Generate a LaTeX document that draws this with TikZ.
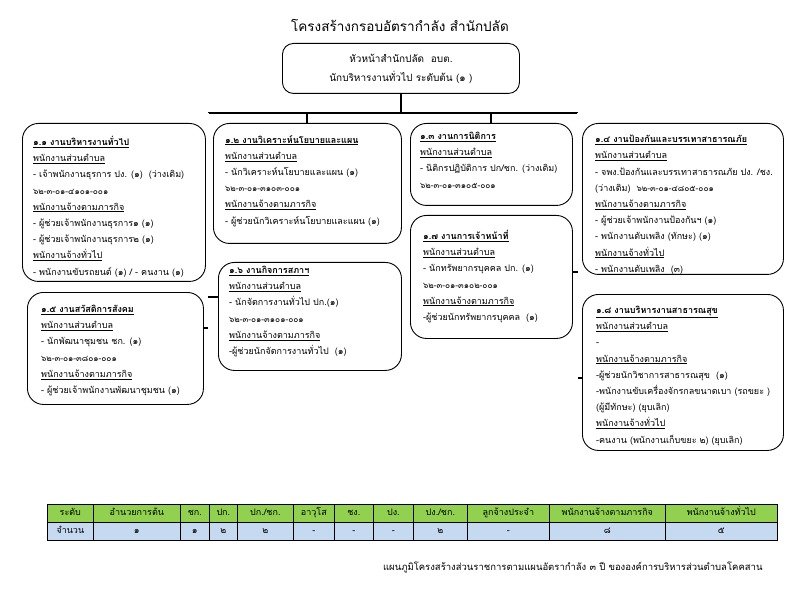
\documentclass[tikz,border=0pt]{standalone}
\usepackage{fontspec}
\setmainfont[Script=Thai]{Loma}
\usepackage{tikz}
\usetikzlibrary{calc}

\definecolor{hdgreen}{HTML}{92D050}
\definecolor{rowblue}{HTML}{C5D9F1}

\newcommand{\hd}[1]{\underline{\textbf{#1}}}
\newcommand{\grp}[1]{\underline{#1}}
\newcommand{\cd}[1]{{\fontsize{8.3}{16.2}\selectfont #1}}

\begin{document}
\begin{tikzpicture}[x=1pt,y=-1pt,font=\fontsize{9}{16.2}\selectfont,
  secbox/.style={draw,rounded corners=16pt,line width=0.9pt,inner sep=0pt,anchor=north west},
  sectxt/.style={align=left,anchor=north west,inner sep=0pt},
  link/.style={line width=2pt},
  spine/.style={double,line width=0.8pt,double distance=1.2pt},
  cell/.style={draw,line width=0.7pt,anchor=north west,inner sep=0pt,minimum height=18pt,
    text height=7pt,text depth=2pt,font=\fontsize{9}{10}\selectfont}]
 \useasboundingbox (0,0) rectangle (792,612);
 % ---- title and head of office
 \node[font=\fontsize{13.5}{15}\selectfont] (title) at (400,25) {โครงสร้างกรอบอัตรากำลัง สำนักปลัด};
 \node[draw,rounded corners=11pt,line width=0.9pt,minimum width=237pt,minimum height=50pt,align=center,
   anchor=north west,font=\fontsize{10}{19}\selectfont] (head) at (282,43)
   {หัวหน้าสำนักปลัด\ \ อบต.\\ นักบริหารงานทั่วไป ระดับต้น (๑ )};
 % ---- boxes
 \node[secbox,minimum width=183pt,minimum height=158pt] (b11) at (22,123) {};
 \node[secbox,minimum width=188pt,minimum height=120pt] (b12) at (213,123) {};
 \node[secbox,minimum width=162pt,minimum height=82pt] (b13) at (410,123) {};
 \node[secbox,minimum width=201pt,minimum height=151pt] (b14) at (582,123) {};
 \node[secbox,minimum width=176pt,minimum height=112pt] (b15) at (27,292) {};
 \node[secbox,minimum width=183pt,minimum height=108pt] (b16) at (218,262) {};
 \node[secbox,minimum width=162pt,minimum height=123pt] (b17) at (410,215) {};
 \node[secbox,minimum width=201pt,minimum height=156pt] (b18) at (582,294) {};
 % ---- texts
 \node[sectxt] (t11) at ([xshift=11pt,yshift=-13pt]b11.north west)
  {\hd{๑.๑ งานบริหารงานทั่วไป}\\ \grp{พนักงานส่วนตำบล}\\ - เจ้าพนักงานธุรการ ปง. (๑)\ \ (ว่างเดิม)\\
   \cd{๖๒-๓-๐๑-๔๑๐๑-๐๐๑}\\ \grp{พนักงานจ้างตามภารกิจ}\\ - ผู้ช่วยเจ้าพนักงานธุรการ๑ (๑)\\
   - ผู้ช่วยเจ้าพนักงานธุรการ๒ (๑)\\ \grp{พนักงานจ้างทั่วไป}\\ - พนักงานขับรถยนต์ (๑) / - คนงาน (๑)};
 \node[sectxt] (t12) at ([xshift=12pt,yshift=-12pt]b12.north west)
  {\hd{๑.๒ งานวิเคราะห์นโยบายและแผน}\\ \grp{พนักงานส่วนตำบล}\\ - นักวิเคราะห์นโยบายและแผน (๑)\\
   \cd{๖๒-๓-๐๑-๓๑๐๓-๐๐๑}\\ \grp{พนักงานจ้างตามภารกิจ}\\ - ผู้ช่วยนักวิเคราะห์นโยบายและแผน (๑)};
 \node[sectxt] (t13) at ([xshift=10pt,yshift=-9pt]b13.north west)
  {\hd{๑.๓ งานการนิติการ}\\ \grp{พนักงานส่วนตำบล}\\ - นิติกรปฏิบัติการ ปก/ชก. (ว่างเดิม)\\
   \cd{๖๒-๓-๐๑-๓๑๐๕-๐๐๑}};
 \node[sectxt] (t14) at ([xshift=13pt,yshift=-12pt]b14.north west)
  {\hd{๑.๔ งานป้องกันและบรรเทาสาธารณภัย}\\ \grp{พนักงานส่วนตำบล}\\ - จพง.ป้องกันและบรรเทาสาธารณภัย ปง. /ชง.\\
   (ว่างเดิม)\ \ \cd{๖๒-๓-๐๑-๔๘๐๕-๐๐๑}\\ \grp{พนักงานจ้างตามภารกิจ}\\ - ผู้ช่วยเจ้าพนักงานป้องกันฯ (๑)\\
   - พนักงานดับเพลิง (ทักษะ) (๑)\\ \grp{พนักงานจ้างทั่วไป}\\ - พนักงานดับเพลิง\ \ (๓)};
 \node[sectxt] (t15) at ([xshift=14pt,yshift=-13pt]b15.north west)
  {\hd{๑.๕ งานสวัสดิการสังคม}\\ \grp{พนักงานส่วนตำบล}\\ - นักพัฒนาชุมชน ชก. (๑)\\
   \cd{๖๒-๓-๐๑-๓๘๐๑-๐๐๑}\\ \grp{พนักงานจ้างตามภารกิจ}\\ - ผู้ช่วยเจ้าพนักงานพัฒนาชุมชน (๑)};
 \node[sectxt] (t16) at ([xshift=11pt,yshift=-4pt]b16.north west)
  {\hd{๑.๖ งานกิจการสภาฯ}\\ \grp{พนักงานส่วนตำบล}\\ - นักจัดการงานทั่วไป ปก.(๑)\\
   \cd{๖๒-๓-๐๑-๓๑๐๑-๐๐๑}\\ \grp{พนักงานจ้างตามภารกิจ}\\ -ผู้ช่วยนักจัดการงานทั่วไป\ \ (๑)};
 \node[sectxt] (t17) at ([xshift=13pt,yshift=-15pt]b17.north west)
  {\hd{๑.๗ งานการเจ้าหน้าที่}\\ \grp{พนักงานส่วนตำบล}\\ - นักทรัพยากรบุคคล ปก. (๑)\\
   \cd{๖๒-๓-๐๑-๓๑๐๒-๐๐๑}\\ \grp{พนักงานจ้างตามภารกิจ}\\ -ผู้ช่วยนักทรัพยากรบุคคล\ \ (๑)};
 \node[sectxt] (t18) at ([xshift=14pt,yshift=-12pt]b18.north west)
  {\hd{๑.๘ งานบริหารงานสาธารณสุข}\\ \grp{พนักงานส่วนตำบล}\\ -\\ \grp{พนักงานจ้างตามภารกิจ}\\
   -ผู้ช่วยนักวิชาการสาธารณสุข\ \ (๑)\\ -พนักงานขับเครื่องจักรกลขนาดเบา (รถขยะ )\\
   (ผู้มีทักษะ) (ยุบเลิก)\\ \grp{พนักงานจ้างทั่วไป}\\ -คนงาน (พนักงานเก็บขยะ ๒) (ยุบเลิก)};
 % ---- connectors
 \coordinate (busL) at (208,113);
 \coordinate (busR) at (578,113);
 \coordinate (spL) at (208,328);
 \coordinate (spR) at (578,378);
 \coordinate (j16) at (208,297);
 \coordinate (j17) at (578,272);
 \draw[link] (head.south) -- (head.south |- busL);
 \draw[link] (busL) -- (busR);
 \draw[link] (b12.north) -- (b12.north |- busL);
 \draw[link] (b13.north) -- (b13.north |- busL);
 \draw[spine] (busL) -- (spL);
 \draw[spine] (busR) -- (spR);
 \draw[link] (spL) -- (spL -| b15.east);
 \draw[link] (j16) -- (j16 -| b16.west);
 \draw[link] (j17) -- (j17 -| b17.east);
 \draw[link] (spR) -- (spR -| b18.west);
 % ---- table
 \foreach \a/\b/\h/\v [count=\i] in {47/93/ระดับ/จำนวน, 93/180/อำนวยการต้น/๑, 180/209/ชก./๑, 209/237/ปก./๒,
   237/293/{ปก./ชก.}/๒, 293/334/อาวุโส/-, 334/373/ชง./-, 373/413/ปง./-, 413/467/{ปง./ชก.}/๒,
   467/549/ลูกจ้างประจำ/-, 549/665/พนักงานจ้างตามภารกิจ/๘, 665/777/พนักงานจ้างทั่วไป/๕}
 {
  \node[cell,fill=hdgreen,minimum width={(\b-\a)*1pt}] (h\i) at (\a,504) {\h};
  \node[cell,fill=rowblue,minimum width={(\b-\a)*1pt}] (v\i) at (\a,522) {\v};
 }
 \node[anchor=east,font=\fontsize{9.5}{10}\selectfont] (foot) at (766,567)
  {แผนภูมิโครงสร้างส่วนราชการตามแผนอัตรากำลัง ๓ ปี ขององค์การบริหารส่วนตำบลโคคสาน};
\end{tikzpicture}
\end{document}
